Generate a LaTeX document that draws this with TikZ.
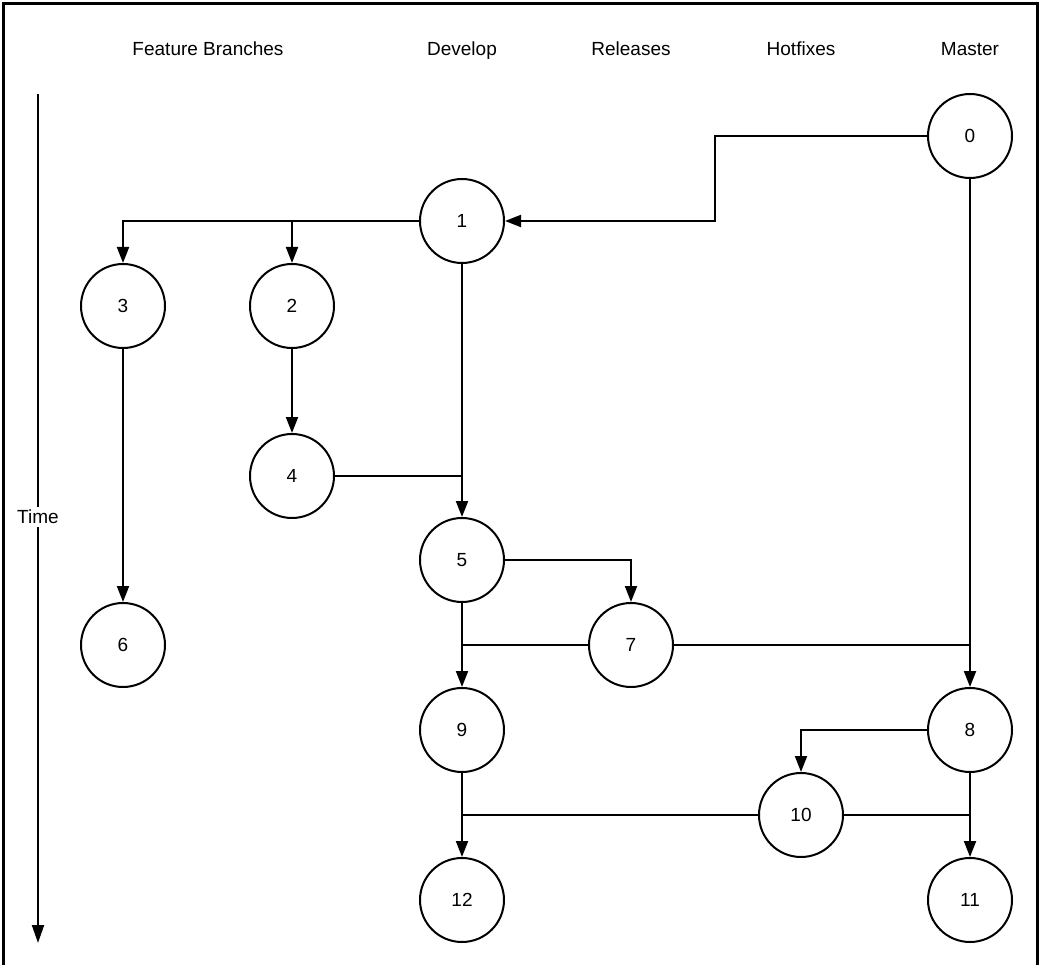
\documentclass[tikz,border=0pt]{standalone}
\usepackage{fontspec}
\setmainfont{Liberation Sans}
\usetikzlibrary{arrows.meta}
\begin{document}
\begin{tikzpicture}[x=1pt,y=-1pt,
  commit/.style={draw,circle,line width=2pt,minimum size=84pt,inner sep=0pt,font=\fontsize{19}{22}\selectfont},
  header/.style={font=\fontsize{19}{22}\selectfont,inner sep=0pt,anchor=base},
  link/.style={line width=2pt},
  arr/.style={link,-{Triangle[length=16pt,width=12pt]}}]
\useasboundingbox (0,0) rectangle (1041,965);
\draw[line width=3pt] (3.5,970) -- (3.5,4) -- (1037,4) -- (1037,970);
% headers
\node[header] (hf) at (208,56) {Feature Branches};
\node[header] (hd) at (462,56) {Develop};
\node[header] (hr) at (631,56) {Releases};
\node[header] (hh) at (801,56) {Hotfixes};
\node[header] (hm) at (970,56) {Master};
% time axis
\coordinate (t0) at (38,94);
\coordinate (t1) at (38,943);
\draw[line width=2pt,-{Triangle[length=18pt,width=12pt]}] (t0) -- (t1);
\node[fill=white,inner sep=3pt,font=\fontsize{19}{22}\selectfont] (time) at (38,517) {Time};
% commits
\node[commit] (n0) at (970,136) {0};
\node[commit] (n1) at (462,221) {1};
\node[commit] (n3) at (123,306) {3};
\node[commit] (n2) at (292,306) {2};
\node[commit] (n4) at (292,476) {4};
\node[commit] (n5) at (462,560) {5};
\node[commit] (n6) at (123,645) {6};
\node[commit] (n7) at (631,645) {7};
\node[commit] (n9) at (462,730) {9};
\node[commit] (n8) at (970,730) {8};
\node[commit] (n10) at (801,815) {10};
\node[commit] (n12) at (462,900) {12};
\node[commit] (n11) at (970,900) {11};
% connectors
\draw[arr] (n0.west) -- ++(-212,0) |- (n1.east);
\draw[arr] (n1.west) -| (n3.north);
\draw[arr] (n1.west) -| (n2.north);
\draw[arr] (n1.south) -- (n5.north);
\draw[arr] (n3.south) -- (n6.north);
\draw[arr] (n2.south) -- (n4.north);
\draw[link] (n4.east) -- (n4.east -| n1.south);
\draw[arr] (n5.east) -| (n7.north);
\draw[arr] (n5.south) -- (n9.north);
\draw[link] (n7.west) -- (n7.west -| n5.south);
\draw[link] (n7.east) -- (n7.east -| n0.south);
\draw[arr] (n0.south) -- (n8.north);
\draw[arr] (n8.west) -| (n10.north);
\draw[arr] (n8.south) -- (n11.north);
\draw[link] (n10.east) -- (n10.east -| n8.south);
\draw[link] (n10.west) -- (n10.west -| n9.south);
\draw[arr] (n9.south) -- (n12.north);
\end{tikzpicture}
\end{document}
